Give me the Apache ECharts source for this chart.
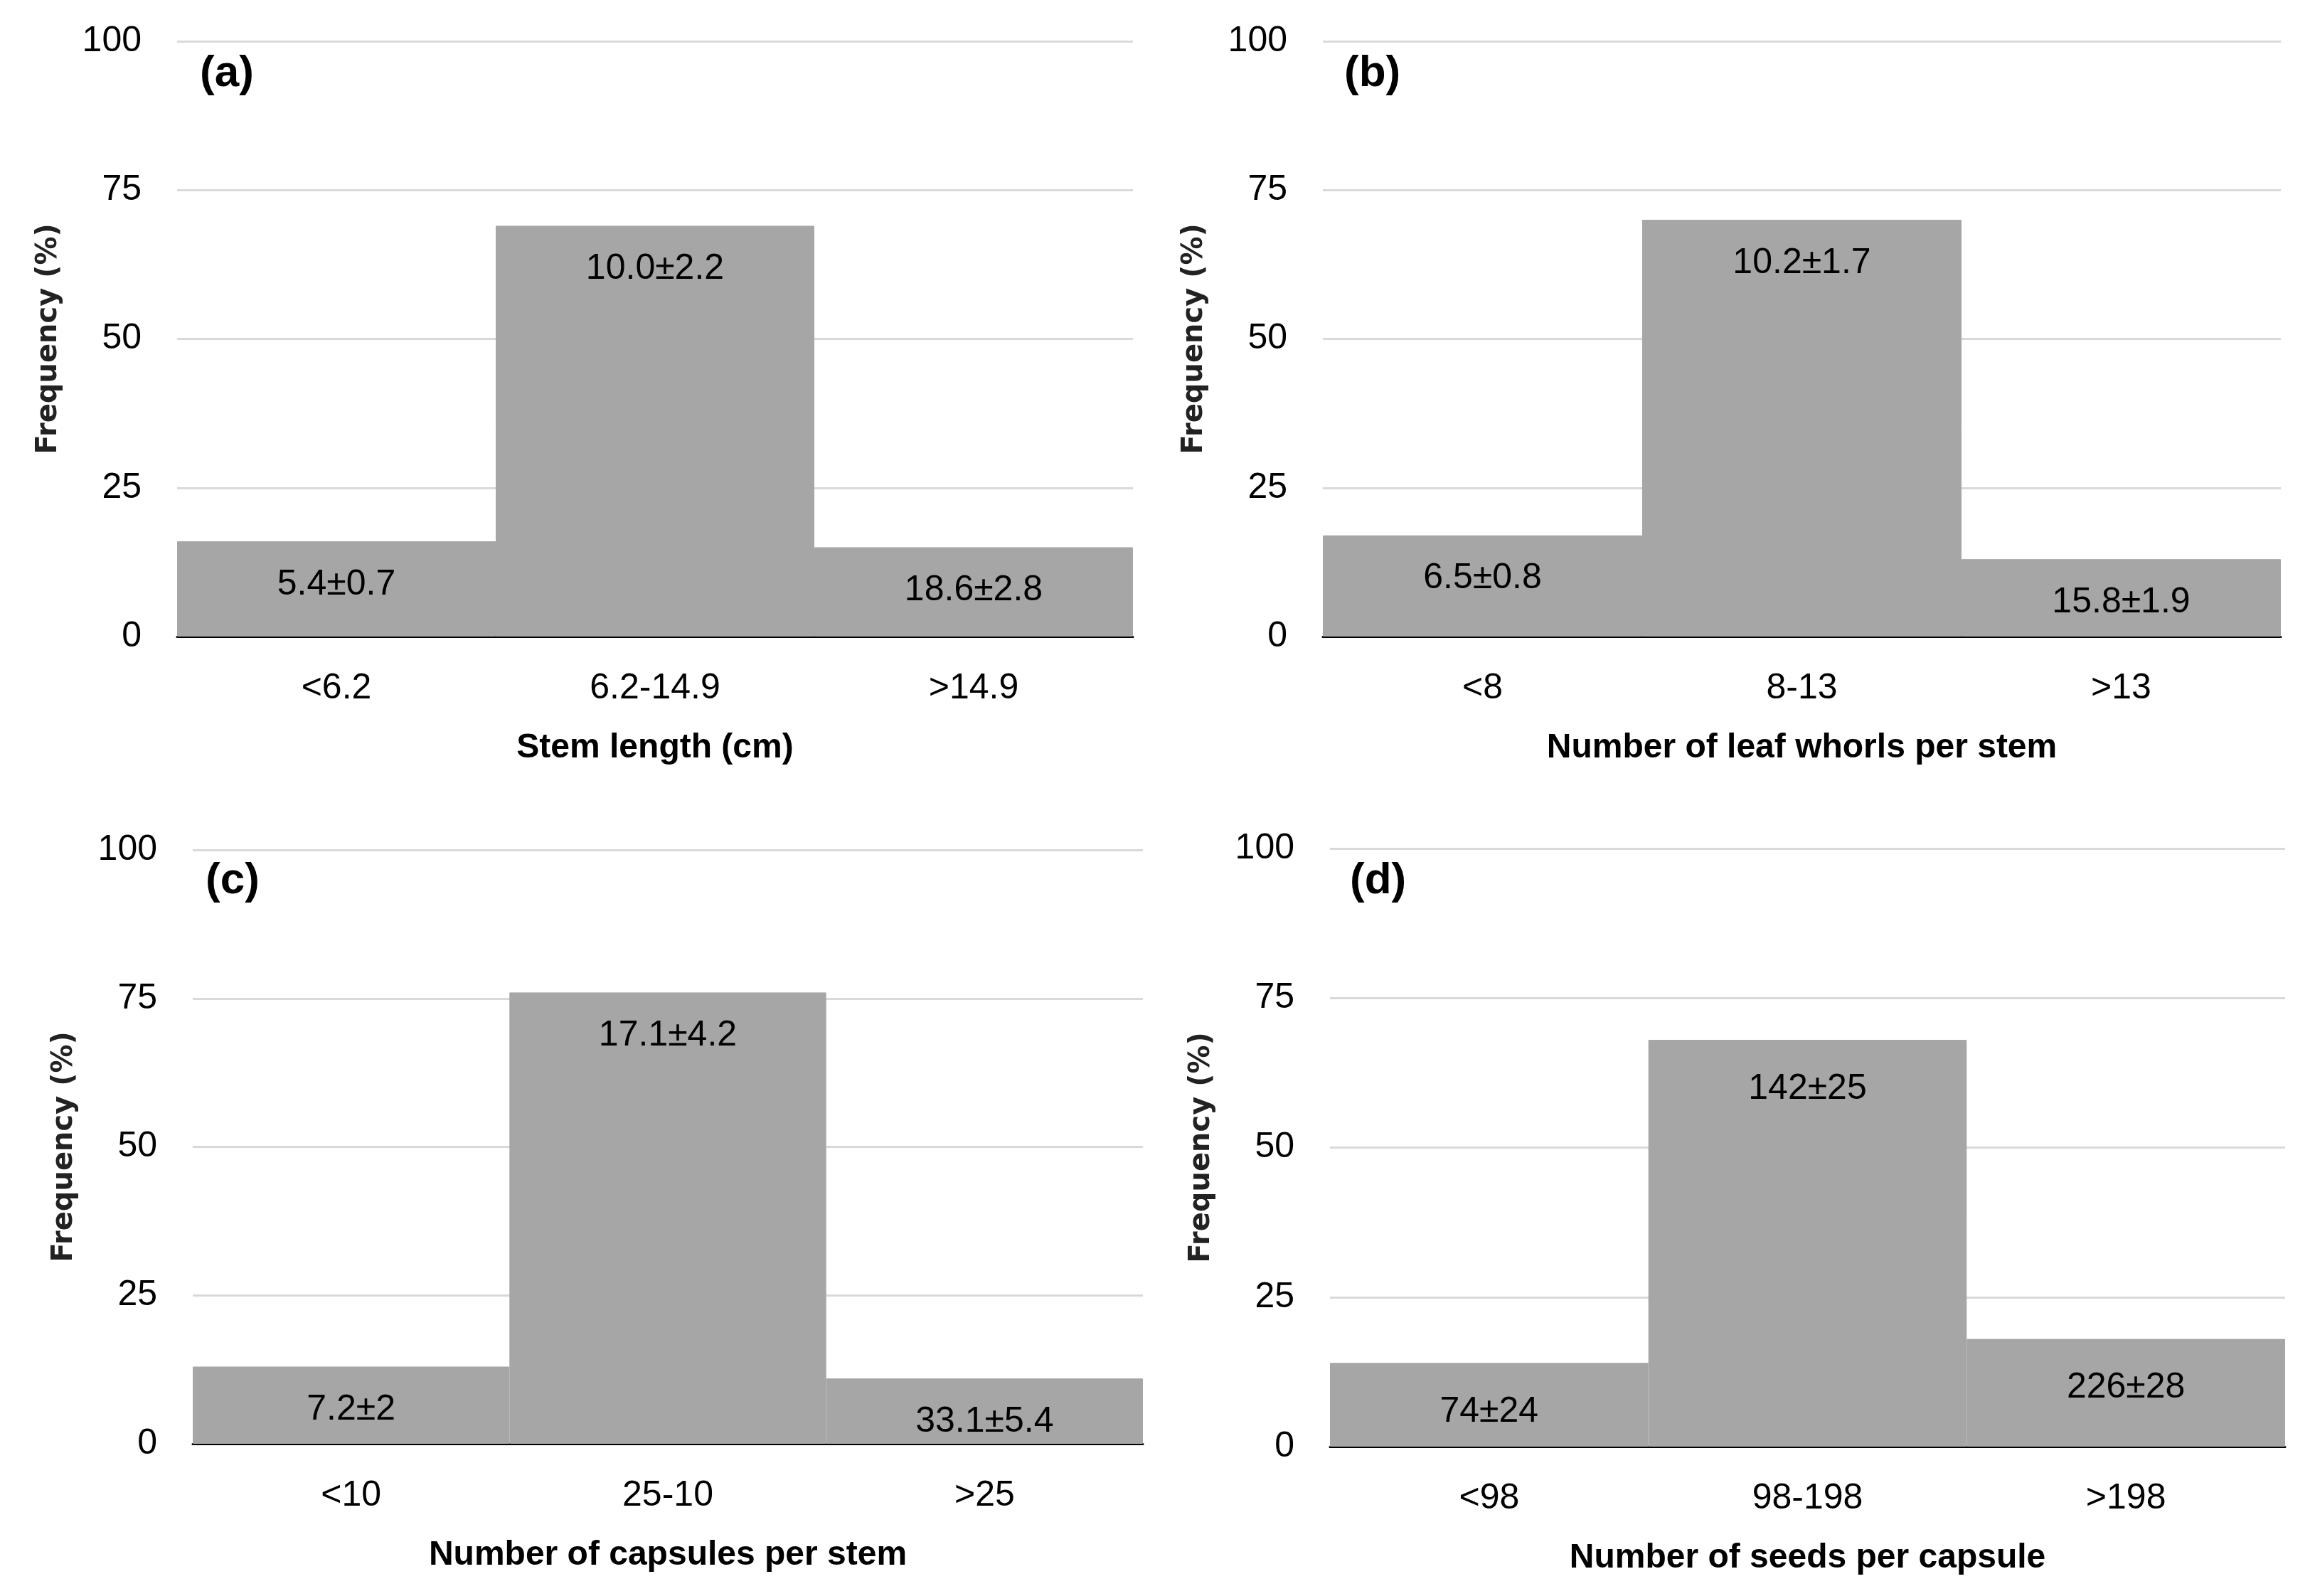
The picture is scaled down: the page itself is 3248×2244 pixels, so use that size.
<!DOCTYPE html>
<html>
<head>
<meta charset="utf-8">
<script src="https://cdn.jsdelivr.net/npm/echarts@6/dist/echarts.min.js"></script>
<style>
html,body{margin:0;padding:0;background:#fff;}
#chart{width:3248px;height:2244px;}
</style>
</head>
<body>
<div id="chart"></div>
<script>
// ---- data ----
const yTicks = [0, 25, 50, 75, 100];

const panelTags = ['(a)', '(b)', '(c)', '(d)'];
const xTitles = ['Stem length (cm)', 'Number of leaf whorls per stem', 'Number of capsules per stem', 'Number of seeds per capsule'];

const categoriesA = ['<6.2', '6.2-14.9', '>14.9'];
const valuesA = [16, 69, 15];
const meansA = ['5.4±0.7', '10.0±2.2', '18.6±2.8'];

const categoriesB = ['<8', '8-13', '>13'];
const valuesB = [17, 70, 13];
const meansB = ['6.5±0.8', '10.2±1.7', '15.8±1.9'];

const categoriesC = ['<10', '25-10', '>25'];
const valuesC = [13, 76, 11];
const meansC = ['7.2±2', '17.1±4.2', '33.1±5.4'];

const categoriesD = ['<98', '98-198', '>198'];
const valuesD = [14, 68, 18];
const meansD = ['74±24', '142±25', '226±28'];

const allCats = [categoriesA, categoriesB, categoriesC, categoriesD];
const allVals = [valuesA, valuesB, valuesC, valuesD];
const allMeans = [meansA, meansB, meansC, meansD];

// ---- layout ----
const grids = [
  {left: 249, right: 1655, top: 58, bottom: 1349},
  {left: 1860, right: 41, top: 58, bottom: 1349},
  {left: 271, right: 1641, top: 1195, bottom: 214},
  {left: 1870, right: 35, top: 1193, bottom: 210}
];
const tagPos = [
  {left: 276, top: 68},
  {left: 1885, top: 68},
  {left: 284, top: 1203},
  {left: 1893, top: 1203}
];

const FONT = 'Liberation Sans';
const textColor = '#000';

const chart = echarts.init(document.getElementById('chart'), null, {renderer: 'canvas'});

const option = {
  backgroundColor: '#fff',
  animation: false,
  title: panelTags.map((t, i) => ({
    text: t,
    left: tagPos[i].left,
    top: tagPos[i].top,
    textStyle: {fontFamily: FONT, fontWeight: 'bold', fontSize: 62, color: textColor}
  })),
  grid: grids,
  xAxis: allCats.map((cats, i) => ({
    type: 'category',
    gridIndex: i,
    data: cats,
    name: xTitles[i],
    nameLocation: 'middle',
    nameGap: 133,
    nameTextStyle: {fontFamily: FONT, fontWeight: 'bold', fontSize: 48, color: textColor},
    axisLine: {show: true, lineStyle: {color: '#000', width: 3}},
    axisTick: {show: false},
    axisLabel: {margin: 48, fontFamily: FONT, fontSize: 50, color: textColor}
  })),
  yAxis: allCats.map((cats, i) => ({
    type: 'value',
    gridIndex: i,
    min: yTicks[0],
    max: yTicks[yTicks.length - 1],
    interval: yTicks[1] - yTicks[0],
    name: 'Frequency (%)',
    nameLocation: 'middle',
    nameRotate: 90,
    nameGap: 160,
    nameTextStyle: {fontFamily: 'DejaVu Sans', fontWeight: 'bold', fontSize: 40, color: '#222'},
    axisLine: {show: false},
    axisTick: {show: false},
    splitLine: {show: true, lineStyle: {color: '#d9d9d9', width: 3}},
    axisLabel: {margin: 50, fontFamily: FONT, fontSize: 50, color: textColor}
  })),
  series: allVals.map((vals, i) => ({
    type: 'bar',
    xAxisIndex: i,
    yAxisIndex: i,
    barCategoryGap: '0%',
    data: vals,
    itemStyle: {color: '#a6a6a6', borderColor: '#a6a6a6', borderWidth: 1},
    label: {
      show: true,
      position: 'insideTop',
      distance: i === 3 ? 44 : 36,
      fontFamily: FONT,
      fontSize: 50,
      color: textColor,
      formatter: (p) => allMeans[i][p.dataIndex]
    }
  }))
};

chart.setOption(option);
</script>
</body>
</html>
